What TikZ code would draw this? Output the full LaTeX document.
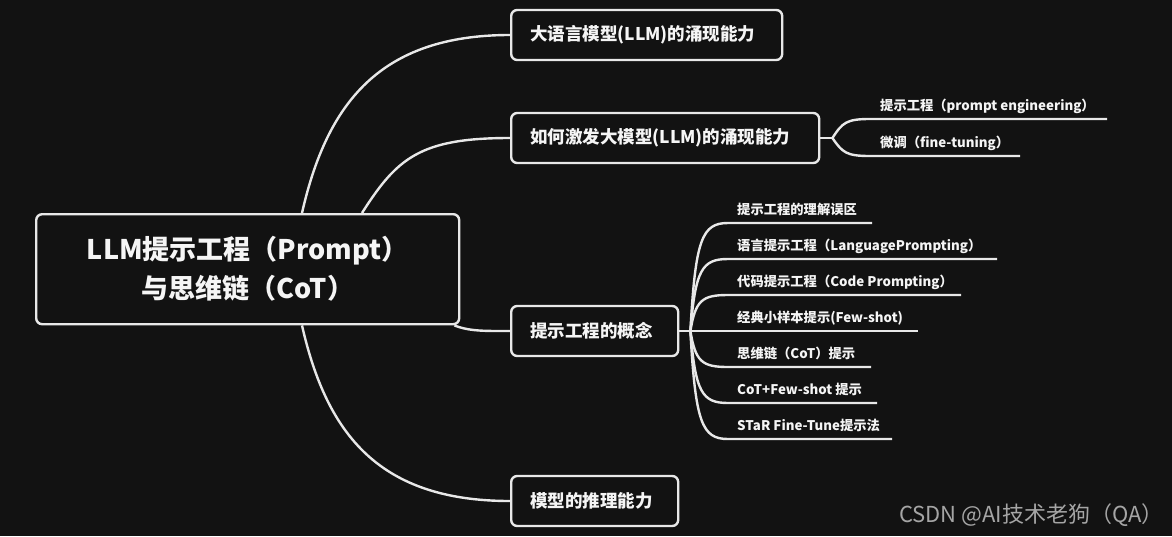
\documentclass[tikz,border=0pt]{standalone}
\usepackage{fontspec}
\setmainfont{Noto Sans CJK SC}
\usetikzlibrary{positioning}
\definecolor{bgdark}{RGB}{18,18,18}
\definecolor{linkgray}{RGB}{232,232,232}
\definecolor{textwhite}{RGB}{245,245,245}
\definecolor{markgray}{RGB}{165,165,165}

\begin{document}
\begin{tikzpicture}[x=1pt, y=-1pt,
  link/.style={draw=linkgray, line width=2.4pt},
  topic/.style={draw=linkgray, line width=2.4pt, rounded corners=6pt, fill=bgdark,
    text=textwhite, font=\fontsize{17.5}{20}\selectfont\bfseries,
    minimum height=50pt, inner xsep=19pt, anchor=west, align=left},
  leaf/.style={text=textwhite, font=\fontsize{13.3}{15}\selectfont\bfseries,
    inner sep=0pt, anchor=base west}]

  \fill[bgdark] (0,0) rectangle (1172,536);

  % Central topic
  \node[topic, anchor=north west, minimum width=423pt, minimum height=110pt,
    align=center, font=\fontsize{27}{39}\selectfont\bfseries] (root) at (35,213)
    {LLM提示工程（Prompt）\\与思维链（CoT）};

  % Main topics
  \node[topic, text width=233pt] (emerge) at (510,35) {大语言模型(LLM)的涌现能力};
  \node[topic, text width=270pt] (trigger) at (510,138) {如何激发大模型(LLM)的涌现能力};
  \node[topic, text width=129pt] (concept) at (510,331) {提示工程的概念};
  \node[topic, text width=129pt] (reason) at (510,501) {模型的推理能力};

  % Branches from the centre
  \path (root.north west) ++(267,0) coordinate (r1);
  \path (root.north west) ++(327,0) coordinate (r2);
  \path (root.south east) ++(-6,0) coordinate (r3);
  \path (root.south west) ++(267,0) coordinate (r4);
  \draw[link] (r1) .. controls +(25,-110) and +(-130,0) .. (emerge.west);
  \draw[link] (r2) .. controls +(35,-55) and +(-90,0) .. (trigger.west);
  \draw[link] (r3) .. controls +(15,6) and +(-25,0) .. (concept.west);
  \draw[link] (r4) .. controls +(25,110) and +(-130,0) .. (reason.west);

  % Ways to trigger
  \draw[link] (trigger.east) -- ++(12,0) coordinate (f2);
  \foreach \i/\y/\xe/\txt in {1/119/1107/{提示工程（prompt engineering）},
                              2/156/1020/{微调（fine-tuning）}} {
    \coordinate (ps\i) at (870,\y);
    \coordinate (pe\i) at (\xe,\y);
    \node[leaf] (pt\i) at (880,\y-9) {\txt};
    \draw[link] (f2) .. controls +(10,{0.8*(\y-138)}) and +(-24,0) .. (ps\i) -- (pe\i);
  }

  % Prompting concepts
  \draw[link] (concept.east) -- ++(11,0) coordinate (f3);
  \foreach \i/\y/\xe/\txt in {1/223/872/{提示工程的理解误区},
                              2/259/997/{语言提示工程（LanguagePrompting）},
                              3/295/961/{代码提示工程（Code Prompting）},
                              4/331/918/{经典小样本提示(Few-shot)},
                              5/367/871/{思维链（CoT）提示},
                              6/403/877/{CoT+Few-shot 提示},
                              7/439/892/{STaR Fine-Tune提示法}} {
    \coordinate (cs\i) at (728,\y);
    \coordinate (ce\i) at (\xe,\y);
    \node[leaf] (ct\i) at (737,\y-9) {\txt};
    \draw[link] (f3) .. controls +(5,{0.85*(\y-331)}) and +(-26,0) .. (cs\i) -- (ce\i);
  }

  \node[text=markgray, font=\fontsize{22}{24}\selectfont, anchor=east, inner sep=0pt]
    (mark) at (1164,515) {CSDN @AI技术老狗（QA）};
\end{tikzpicture}
\end{document}
